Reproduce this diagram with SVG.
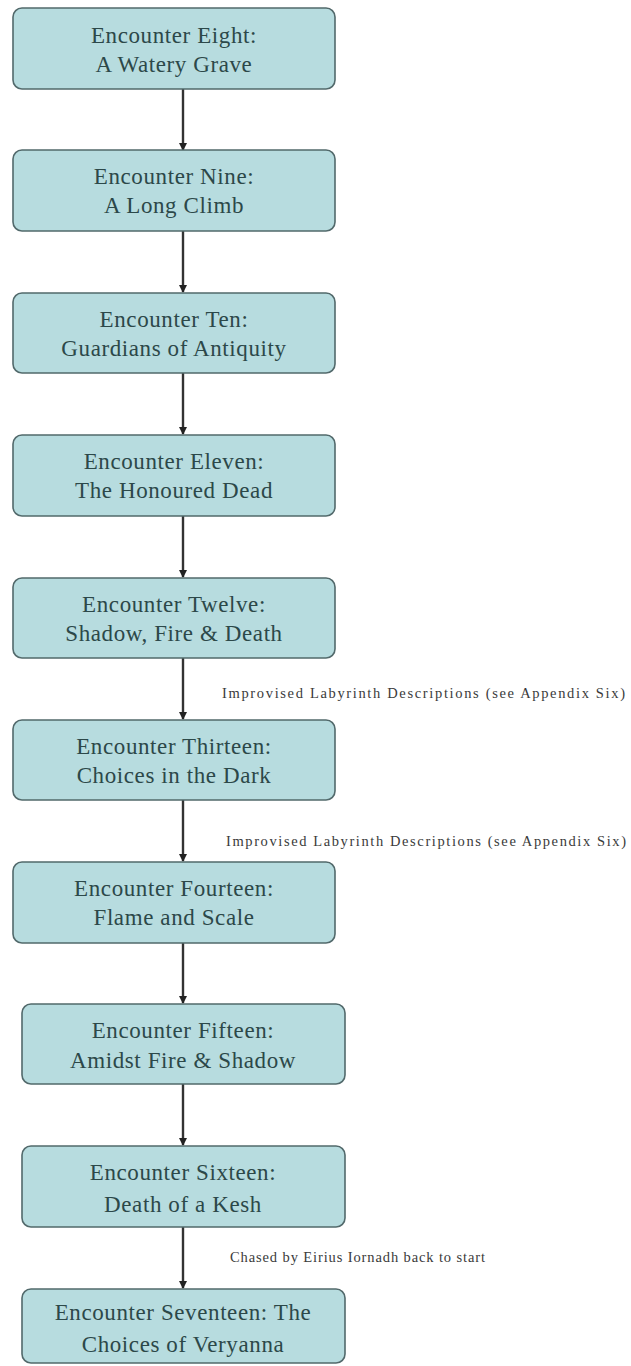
<svg xmlns="http://www.w3.org/2000/svg" width="631" height="1366" viewBox="0 0 631 1366">
<defs>
<style>
.box{fill:#b7dcdf;stroke:#52696b;stroke-width:1.6}
.t{font-family:"Liberation Serif",serif;font-size:23px;letter-spacing:0.6px;fill:#2c4849;text-anchor:middle}
.lbl{font-family:"Liberation Serif",serif;font-size:14.5px;fill:#3a3a3a}
.c{stroke:#333;stroke-width:2.4;fill:none;marker-end:url(#ah)}
</style>
<marker id="ah" markerWidth="8" markerHeight="8" refX="7" refY="4" orient="auto" markerUnits="userSpaceOnUse">
<path d="M0,0 L8,4 L0,8 Z" fill="#222"/>
</marker>
</defs>
<rect width="631" height="1366" fill="#fff"/>
<g id="connectors">
<line class="c" x1="183" y1="89" x2="183" y2="150"/>
<line class="c" x1="183" y1="231" x2="183" y2="292"/>
<line class="c" x1="183" y1="373" x2="183" y2="434"/>
<line class="c" x1="183" y1="516" x2="183" y2="577"/>
<line class="c" x1="183" y1="658" x2="183" y2="719"/>
<line class="c" x1="183" y1="800" x2="183" y2="861"/>
<line class="c" x1="183" y1="943" x2="183" y2="1003"/>
<line class="c" x1="183" y1="1084" x2="183" y2="1145"/>
<line class="c" x1="183" y1="1227" x2="183" y2="1288"/>
<text class="lbl" x="222" y="698" textLength="403" lengthAdjust="spacing">Improvised Labyrinth Descriptions (see Appendix Six)</text>
<text class="lbl" x="226" y="846" textLength="400" lengthAdjust="spacing">Improvised Labyrinth Descriptions (see Appendix Six)</text>
<text class="lbl" x="230" y="1262" textLength="255" lengthAdjust="spacing">Chased by Eirius Iornadh back to start</text>
</g>
<g id="n8"><rect class="box" x="13" y="8" width="322" height="81" rx="9"/><text class="t" x="174" y="43">Encounter Eight:</text><text class="t" x="174" y="72">A Watery Grave</text></g>
<g id="n9"><rect class="box" x="13" y="150" width="322" height="81" rx="9"/><text class="t" x="174" y="184">Encounter Nine:</text><text class="t" x="174" y="213">A Long Climb</text></g>
<g id="n10"><rect class="box" x="13" y="293" width="322" height="80" rx="9"/><text class="t" x="174" y="327">Encounter Ten:</text><text class="t" x="174" y="356">Guardians of Antiquity</text></g>
<g id="n11"><rect class="box" x="13" y="435" width="322" height="81" rx="9"/><text class="t" x="174" y="469">Encounter Eleven:</text><text class="t" x="174" y="498">The Honoured Dead</text></g>
<g id="n12"><rect class="box" x="13" y="578" width="322" height="80" rx="9"/><text class="t" x="174" y="612">Encounter Twelve:</text><text class="t" x="174" y="641">Shadow, Fire &amp; Death</text></g>
<g id="n13"><rect class="box" x="13" y="720" width="322" height="80" rx="9"/><text class="t" x="174" y="754">Encounter Thirteen:</text><text class="t" x="174" y="783">Choices in the Dark</text></g>
<g id="n14"><rect class="box" x="13" y="862" width="322" height="81" rx="9"/><text class="t" x="174" y="896">Encounter Fourteen:</text><text class="t" x="174" y="925">Flame and Scale</text></g>
<g id="n15"><rect class="box" x="22" y="1004" width="323" height="80" rx="9"/><text class="t" x="183" y="1038">Encounter Fifteen:</text><text class="t" x="183" y="1068">Amidst Fire &amp; Shadow</text></g>
<g id="n16"><rect class="box" x="22" y="1146" width="323" height="81" rx="9"/><text class="t" x="183" y="1180">Encounter Sixteen:</text><text class="t" x="183" y="1212">Death of a Kesh</text></g>
<g id="n17"><rect class="box" x="22" y="1289" width="323" height="74" rx="9"/><text class="t" x="183" y="1320">Encounter Seventeen: The</text><text class="t" x="183" y="1352">Choices of Veryanna</text></g>
</svg>
